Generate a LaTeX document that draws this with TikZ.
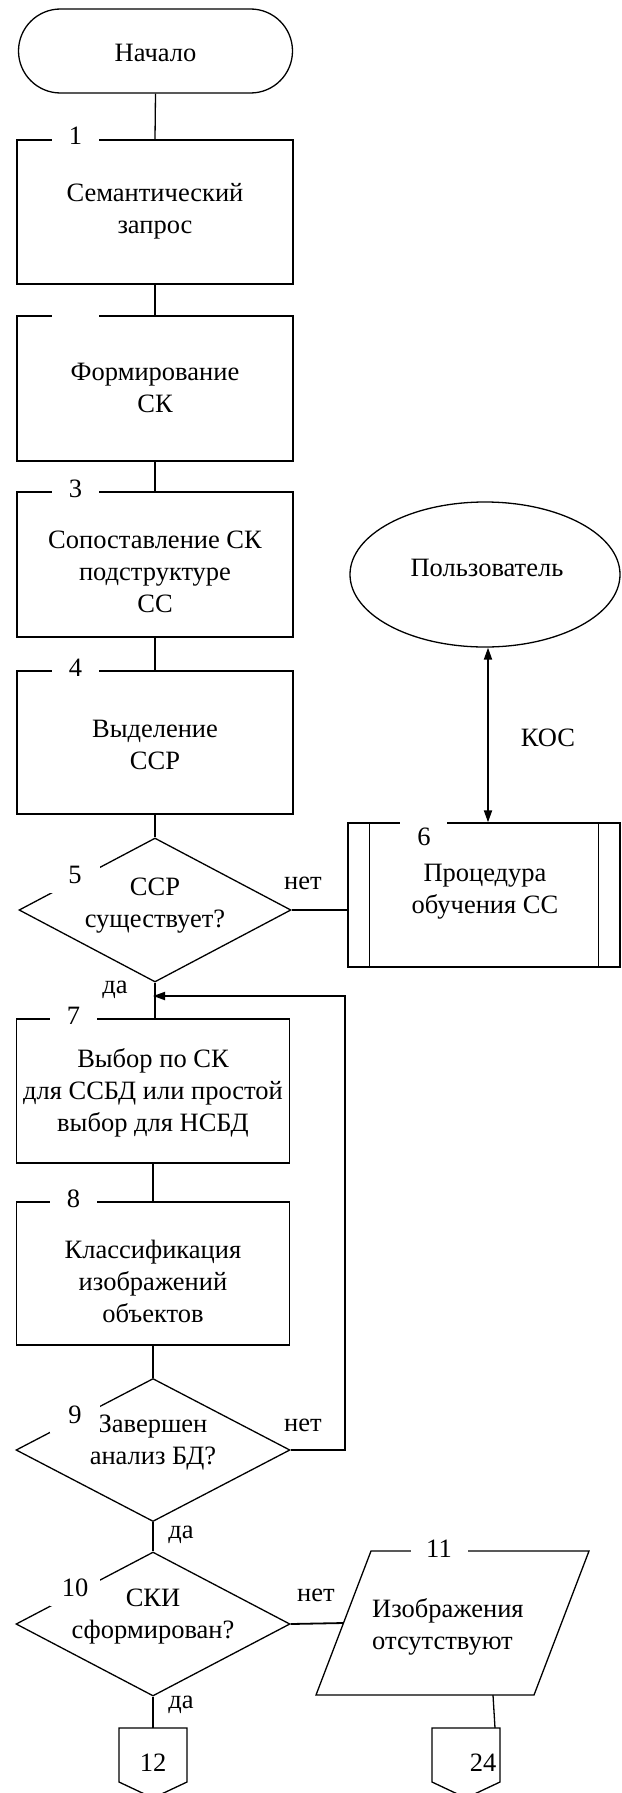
\documentclass[tikz,border=0pt]{standalone}
\usepackage{fontspec}
\setmainfont{Liberation Serif}
\usetikzlibrary{shapes.geometric, arrows.meta}
\begin{document}
\begin{tikzpicture}[x=1pt,y=-1pt,
  every node/.style={font=\fontsize{26.5}{32}\selectfont},
  line/.style={line width=1.3pt},
  proc/.style={draw, line width=1.3pt, rectangle, inner sep=0pt},
  dia/.style={draw, line width=1.3pt, diamond, inner sep=0pt},
  gap/.style={fill=white, inner sep=0pt},
  txt/.style={align=center, inner sep=0pt},
  arr/.style={line width=1.8pt},
  tip/.style={-{Triangle[length=12pt,width=8pt]}}
]
\useasboundingbox (0,0) rectangle (621,1793);

% Terminator
\node[proc, rounded corners=42pt, minimum width=274pt, minimum height=84pt] (t) at (155.5,51) {};
\node[txt] (tt) at (155.5,53) {Начало};

% Box 1
\node[proc, minimum width=276pt, minimum height=144pt] (b1) at (155,212) {};
\node[txt] (b1t) at (155,211) {Семантический\\запрос};
\node[gap, minimum width=47pt] (n1) at (75.5,136) {1};

% Box 2
\node[proc, minimum width=276pt, minimum height=145pt] (b2) at (155,388.5) {};
\node[txt] (b2t) at (155,388) {Формирование\\СК};
\node[gap, minimum width=47pt, minimum height=6pt] (g2) at (75.5,316) {};

% Box 3
\node[proc, minimum width=276pt, minimum height=145pt] (b3) at (155,564.5) {};
\node[txt] (b3t) at (155,572) {Сопоставление СК\\подструктуре\\СС};
\node[gap, minimum width=47pt] (n3) at (75.5,489) {3};

% Box 4
\node[proc, minimum width=276pt, minimum height=143pt] (b4) at (155,742.5) {};
\node[txt] (b4t) at (155,745) {Выделение\\ССР};
\node[gap, minimum width=47pt] (n4) at (75.5,668) {4};

% Diamond 5
\node[dia, minimum width=272pt, minimum height=144pt] (d5) at (155,910) {};
\node[txt] (d5t) at (155,906) {ССР\\существует?};
\node[gap, minimum width=50pt, minimum height=36pt] (n5) at (75,875) {5};
\node[inner sep=0pt] (no5) at (303,883) {нет};

% Box 6 (predefined process)
\node[proc, minimum width=272pt, minimum height=144pt] (b6) at (484,895) {};
\draw[line] ([xshift=22pt]b6.north west) -- ([xshift=22pt]b6.south west);
\draw[line] ([xshift=-22pt]b6.north east) -- ([xshift=-22pt]b6.south east);
\node[gap, minimum width=47pt, minimum height=6pt] (g6) at (423.5,823) {};
\node[inner sep=0pt] (n6) at (424,837) {6};
\node[txt] (b6t) at (485,892) {Процедура\\обучения СС};

% User ellipse
\node[draw, line width=1.3pt, ellipse, minimum width=270pt, minimum height=145pt, inner sep=0pt] (u) at (485,574.5) {};
\node[txt] (ut) at (487,568) {Пользователь};
\node[inner sep=0pt] (kos) at (548,738) {КОС};

% Box 7
\node[proc, minimum width=273pt, minimum height=144pt] (b7) at (153,1091) {};
\node[txt] (b7t) at (153,1093) {Выбор по СК\\для ССБД или простой\\выбор для НСБД};
\node[gap, minimum width=47pt] (n7) at (73.5,1016) {7};

% Box 8
\node[proc, minimum width=273pt, minimum height=143pt] (b8) at (153,1273.5) {};
\node[txt] (b8t) at (153,1281) {Классификация\\изображений\\объектов};
\node[gap, minimum width=47pt] (n8) at (73.5,1199) {8};

% Diamond 9
\node[dia, minimum width=274pt, minimum height=143pt] (d9) at (153,1450) {};
\node[txt] (d9t) at (153,1443) {Завершен\\анализ БД?};
\node[gap, minimum width=50pt, minimum height=36pt] (n9) at (75,1415) {9};
\node[inner sep=0pt] (no9) at (303,1425) {нет};

% Diamond 10
\node[dia, minimum width=274pt, minimum height=144pt] (d10) at (153,1624) {};
\node[txt] (d10t) at (153,1617) {СКИ\\сформирован?};
\node[gap, minimum width=50pt, minimum height=36pt] (n10) at (75,1588) {10};
\node[inner sep=0pt] (no10) at (316,1595) {нет};

% yes labels
\node[inner sep=0pt] (y5) at (115,990) {да};
\node[inner sep=0pt] (y9) at (181,1535) {да};
\node[inner sep=0pt] (y10) at (181,1705) {да};

% Parallelogram 11
\draw[line] (371,1551) -- (589,1551) -- (534,1695) -- (316,1695) -- cycle;
\node[gap, minimum width=57pt] (n11) at (439,1549) {11};
\node[align=left, anchor=west, inner sep=0pt] (p11) at (372,1627) {Изображения\\отсутствуют};
\coordinate (p11w) at (343.5,1623);
\coordinate (p11s) at (493,1695);

% Off-page connectors
\draw[line] (119,1728) -- (187,1728) -- (187,1782) -- (153,1798) -- (119,1782) -- cycle;
\node[inner sep=0pt] (c12) at (153,1763) {12};
\coordinate (c12n) at (153,1728);
\draw[line] (432,1728) -- (500,1728) -- (500,1782) -- (466,1798) -- (432,1782) -- cycle;
\node[inner sep=0pt] (c24) at (483,1763) {24};
\coordinate (c24n) at (495,1728);

% Connectors
\draw[line] (t.south) -- (b1.north);
\draw[line] (b1.south) -- (b2.north);
\draw[line] (b2.south) -- (b3.north);
\draw[line] (b3.south) -- (b4.north);
\draw[line] (b4.south) -- (d5.north);
\draw[arr] (d5.east) -- (d5.east -| b6.west);
\draw[arr, {Triangle[length=12pt,width=8pt]}-{Triangle[length=12pt,width=8pt]}] ([xshift=3pt]u.south) -- ([xshift=4pt]b6.north);
\draw[line] (d5.south) -- (d5.south |- b7.north);
\draw[line] (b7.south) -- (b8.north);
\draw[line] (b8.south) -- (d9.north);
\coordinate (lp) at (345,996);
\draw[arr, tip] (d9.east) -| (lp) -- (lp -| b7.north);
\draw[line] (d9.south) -- (d10.north);
\draw[arr] (d10.east) -- (p11w);
\draw[line] (d10.south) -- (c12n);
\draw[line] (p11s) -- (c24n);
\end{tikzpicture}
\end{document}
